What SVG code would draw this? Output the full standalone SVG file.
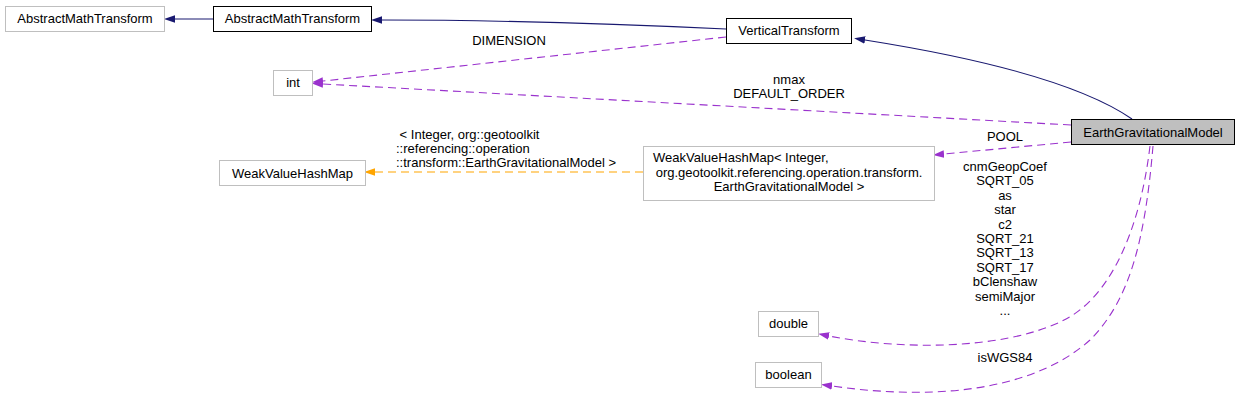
<svg xmlns="http://www.w3.org/2000/svg" width="1239" height="403" viewBox="0 0 1239 403">
<style>
text{font-family:"Liberation Sans",Arial,sans-serif;font-size:13px;fill:#000}
.n{text-anchor:middle}
.g{fill:#fff;stroke:#bfbfbf;stroke-width:1}
.b{fill:#fff;stroke:#000;stroke-width:1}
.c{fill:#bfbfbf;stroke:#000;stroke-width:1}
.inh{fill:none;stroke:#191970;stroke-width:1.1}
.use{fill:none;stroke:#9a32cd;stroke-width:1.1;stroke-dasharray:8,5}
.tpl{fill:none;stroke:#ffa500;stroke-width:1.1;stroke-dasharray:8,5}
</style>
<defs>
<marker id="aN" markerUnits="userSpaceOnUse" markerWidth="11" markerHeight="8" viewBox="0 0 10 7" refX="0" refY="3.5" orient="auto"><path d="M0,0L10,3.5L0,7z" fill="#191970"/></marker>
<marker id="aP" markerUnits="userSpaceOnUse" markerWidth="11" markerHeight="8" viewBox="0 0 10 7" refX="0" refY="3.5" orient="auto"><path d="M0,0L10,3.5L0,7z" fill="#9a32cd"/></marker>
<marker id="aO" markerUnits="userSpaceOnUse" markerWidth="11" markerHeight="8" viewBox="0 0 10 7" refX="0" refY="3.5" orient="auto"><path d="M0,0L10,3.5L0,7z" fill="#ffa500"/></marker>
</defs>
<g id="connectors">
<path class="inh" d="M213,19 L175,19" marker-end="url(#aN)"/>
<path class="inh" d="M726,29 C620,24 480,20 382,20" marker-end="url(#aN)"/>
<path class="inh" d="M1132,119 C1090,90 1010,63 865,40" marker-end="url(#aN)"/>
<path class="use" d="M726,37 L323,81" marker-end="url(#aP)"/>
<path class="use" d="M1071,125 L323,84" marker-end="url(#aP)"/>
<path class="use" d="M1071,142 L944,154" marker-end="url(#aP)"/>
<path class="tpl" d="M643,172 L375,172" marker-end="url(#aO)"/>
<path class="use" d="M1150,146 C1140,230 1110,300 1060,322 C1000,350 900,350 829,336" marker-end="url(#aP)"/>
<path class="use" d="M1153,146 C1145,240 1130,300 1090,340 C1040,385 950,403 832,386" marker-end="url(#aP)"/>
<text class="n" x="509" y="45">DIMENSION</text>
<text class="n" x="789" y="84">nmax</text>
<text class="n" x="789" y="98">DEFAULT_ORDER</text>
<text class="n" x="1005" y="141">POOL</text>
<text x="396" y="139" xml:space="preserve"> &lt; Integer, org::geotoolkit</text>
<text x="396" y="153">::referencing::operation</text>
<text x="396" y="167">::transform::EarthGravitationalModel &gt;</text>
<text class="n" x="1005" y="171">cnmGeopCoef</text>
<text class="n" x="1005" y="185.4">SQRT_05</text>
<text class="n" x="1005" y="199.8">as</text>
<text class="n" x="1005" y="214.2">star</text>
<text class="n" x="1005" y="228.6">c2</text>
<text class="n" x="1005" y="243">SQRT_21</text>
<text class="n" x="1005" y="257.4">SQRT_13</text>
<text class="n" x="1005" y="271.8">SQRT_17</text>
<text class="n" x="1005" y="286.2">bClenshaw</text>
<text class="n" x="1005" y="300.6">semiMajor</text>
<text class="n" x="1005" y="315">...</text>
<text class="n" x="1005" y="362">isWGS84</text>
</g>
<g id="AbstractMathTransform_ext">
<rect class="g" x="5.5" y="6.5" width="159" height="25"/>
<text class="n" x="85" y="23">AbstractMathTransform</text>
</g>
<g id="AbstractMathTransform">
<rect class="b" x="213.5" y="6.5" width="158" height="25"/>
<text class="n" x="292.5" y="23">AbstractMathTransform</text>
</g>
<g id="VerticalTransform">
<rect class="b" x="726.5" y="18.5" width="125" height="25"/>
<text class="n" x="789" y="35">VerticalTransform</text>
</g>
<g id="int">
<rect class="g" x="273.5" y="70.5" width="39" height="25"/>
<text class="n" x="293" y="87">int</text>
</g>
<g id="EarthGravitationalModel">
<rect class="c" x="1071.5" y="119.5" width="163" height="25"/>
<text class="n" x="1153" y="136.5">EarthGravitationalModel</text>
</g>
<g id="WeakValueHashMap">
<rect class="g" x="219.5" y="160.5" width="146" height="25"/>
<text class="n" x="292.5" y="177.5">WeakValueHashMap</text>
</g>
<g id="WeakValueHashMap_EGM">
<rect class="g" x="643.5" y="146.5" width="291" height="54"/>
<text x="653" y="162">WeakValueHashMap&lt; Integer,</text>
<text class="n" x="789" y="176.5">org.geotoolkit.referencing.operation.transform.</text>
<text class="n" x="789" y="191">EarthGravitationalModel &gt;</text>
</g>
<g id="double">
<rect class="g" x="758.5" y="311.5" width="60" height="25"/>
<text class="n" x="788.5" y="328">double</text>
</g>
<g id="boolean">
<rect class="g" x="755.5" y="362.5" width="66" height="25"/>
<text class="n" x="788.5" y="379">boolean</text>
</g>
</svg>
